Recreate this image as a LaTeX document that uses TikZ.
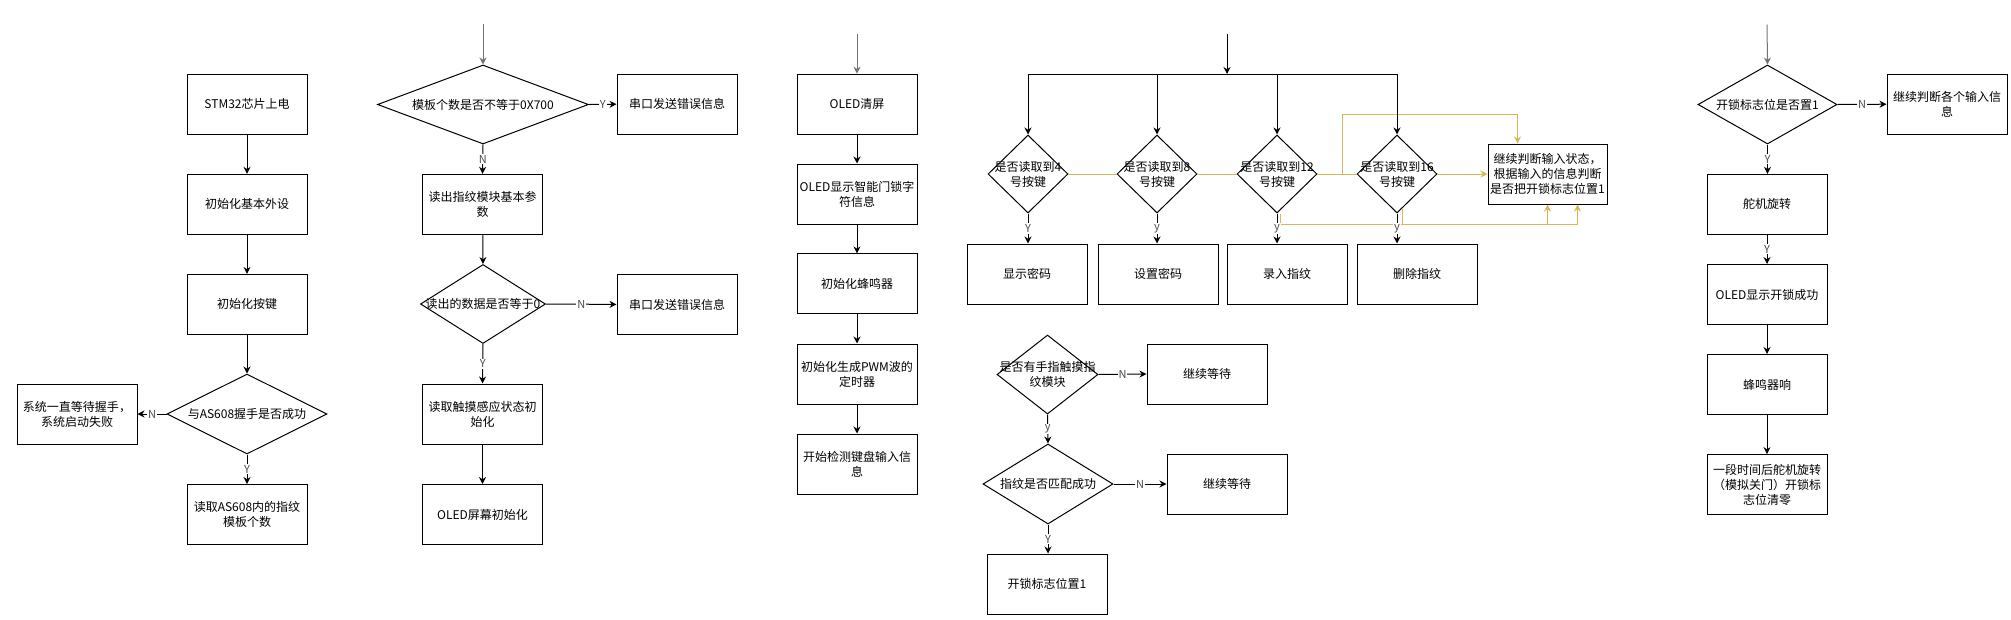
\documentclass[tikz,border=0pt]{standalone}
\usepackage{fontspec}
\setmainfont{Noto Sans CJK SC}
\usetikzlibrary{shapes.geometric,arrows.meta,calc}
\definecolor{yel}{HTML}{D6B656}
\newcommand\myfs{\fontsize{12pt}{15pt}\selectfont}
\newcommand\mylf{\fontsize{11pt}{12pt}\selectfont}
\begin{document}
\begin{tikzpicture}[x=1pt,y=-1pt,
  box/.style={draw, line width=1pt, minimum width=120pt, minimum height=60pt, inner sep=0pt, align=center, font=\myfs},
  dia/.style={draw, diamond, line width=1pt, inner sep=0pt},
  dl/.style={font=\myfs, align=center, inner sep=0pt},
  arr/.style={line width=1pt, -{Stealth[length=7pt,width=7pt]}},
  ent/.style={arr, draw=black!55},
  lbl/.style={fill=white, inner sep=1pt, font=\mylf, text=black!70},
  yl/.style={draw=yel, line width=1pt},
  yarr/.style={yl, -{Stealth[length=7pt,width=7pt]}, yel}
]
\useasboundingbox (0,0) rectangle (2011,619);

% ---------- column 1 ----------
\node[box] (b1) at (247,104.2) {STM32芯片上电};
\node[box] (b2) at (247,204.3) {初始化基本外设};
\node[box] (b3) at (247,304.4) {初始化按键};
\node[dia, minimum width=160pt, minimum height=80pt, label={[dl]center:与AS608握手是否成功}] (d1) at (247,414) {};
\node[box] (bL) at (77,414) {系统一直等待握手，\\系统启动失败};
\node[box] (b4) at (247,514.5) {读取AS608内的指纹\\模板个数};
\draw[arr] (b1) -- (b2);
\draw[arr] (b2) -- (b3);
\draw[arr] (b3) -- (d1.north);
\draw[arr] (d1.west) -- node[lbl]{N} (bL.east);
\draw[arr] (d1.south) -- node[lbl]{Y} (b4.north);

% ---------- column 2 ----------
\coordinate (s2) at (483,23.7);
\node[dia, minimum width=211pt, minimum height=79pt, label={[dl]center:模板个数是否不等于0X700}] (d2) at (483,104.5) {};
\node[box] (r1) at (677,104.2) {串口发送错误信息};
\node[box] (b5) at (482.5,204.3) {读出指纹模块基本参\\数};
\node[dia, minimum width=125pt, minimum height=79pt, label={[dl]center:读出的数据是否等于0}] (d3) at (483,304) {};
\node[box] (r2) at (677,304.4) {串口发送错误信息};
\node[box] (b6) at (482.5,414) {读取触摸感应状态初\\始化};
\node[box] (b7) at (482.5,514.5) {OLED屏幕初始化};
\draw[ent] (s2) -- (d2.north);
\draw[arr] (d2.east) -- node[lbl]{Y} (r1.west);
\draw[arr] (d2.south) -- node[lbl]{N} (b5.north);
\draw[arr] (b5) -- (d3.north);
\draw[arr] (d3.east) -- node[lbl]{N} (r2.west);
\draw[arr] (d3.south) -- node[lbl]{Y} (b6.north);
\draw[arr] (b6) -- (b7);

% ---------- column 3 ----------
\coordinate (s3) at (857,33.6);
\node[box] (c1) at (857,104.2) {OLED清屏};
\node[box] (c2) at (857,194) {OLED显示智能门锁字\\符信息};
\node[box] (c3) at (857,283.9) {初始化蜂鸣器};
\node[box] (c4) at (857,374) {初始化生成PWM波的\\定时器};
\node[box] (c5) at (857,464) {开始检测键盘输入信\\息};
\draw[ent] (s3) -- (c1);
\draw[arr] (c1) -- (c2);
\draw[arr] (c2) -- (c3);
\draw[arr] (c3) -- (c4);
\draw[arr] (c4) -- (c5);

% ---------- column 4 (keys) ----------
\coordinate (s4) at (1227,34);
\coordinate (jn) at (1227,74);
\node[dia, minimum width=80pt, minimum height=78pt, label={[dl]center:是否读取到4\\号按键}] (k1) at (1028,174) {};
\node[dia, minimum width=80pt, minimum height=78pt, label={[dl]center:是否读取到8\\号按键}] (k2) at (1157,174) {};
\node[dia, minimum width=80pt, minimum height=78pt, label={[dl]center:是否读取到12\\号按键}] (k3) at (1277,174) {};
\node[dia, minimum width=80pt, minimum height=78pt, label={[dl]center:是否读取到16\\号按键}] (k4) at (1397,174) {};
\node[box] (p1) at (1027,274) {显示密码};
\node[box] (p2) at (1158,274) {设置密码};
\node[box] (p3) at (1287,274) {录入指纹};
\node[box] (p4) at (1417,274) {删除指纹};
\node[box, minimum width=119pt] (q) at (1547.5,174) {继续判断输入状态，\\根据输入的信息判断\\是否把开锁标志位置1};
\coordinate (ya) at (1342,114);
% yellow connectors
\draw[yl] (k1.east) -- (k2.west);
\draw[yl] (k2.east) -- (k3.west);
\draw[yl] (k3.east) -- (k4.west);
\draw[yarr] (k4.east) -- (q.west);
\draw[yarr] (ya |- k3) -- (ya) -| ([xshift=-30pt]q.north);
\draw[yarr] ([xshift=3pt]k3.south) -- ++(0,11) -| (q.south);
\draw[yarr] ($(k4.south)+(5,-5)$) -- ++(0,16) -| ([xshift=30pt]q.south);
% black connectors
\draw[arr] (s4) -- (jn);
\draw[line width=1pt] (jn -| k1) -- (jn -| k4);
\draw[arr] (jn -| k1) -- (k1.north);
\draw[arr] (jn -| k2) -- (k2.north);
\draw[arr] (jn -| k3) -- (k3.north);
\draw[arr] (jn -| k4) -- (k4.north);
\draw[arr] (k1.south) -- node[lbl]{Y} (k1.south |- p1.north);
\draw[arr] (k2.south) -- node[lbl]{y} (k2.south |- p2.north);
\draw[arr] (k3.south) -- node[lbl]{y} (k3.south |- p3.north);
\draw[arr] (k4.south) -- node[lbl]{y} (k4.south |- p4.north);

% ---------- column 4 (fingerprint) ----------
\node[dia, minimum width=101pt, minimum height=79pt, label={[dl]center:是否有手指触摸指\\纹模块}] (e1) at (1047.5,374.5) {};
\node[box] (w1) at (1207,374) {继续等待};
\node[dia, minimum width=130pt, minimum height=80pt, label={[dl]center:指纹是否匹配成功}] (e2) at (1048,484) {};
\node[box] (w2) at (1227,484) {继续等待};
\node[box] (f1) at (1047,584) {开锁标志位置1};
\draw[arr] (e1.east) -- node[lbl]{N} (w1.west);
\draw[arr] (e1.south) -- node[lbl]{y} (e2.north);
\draw[arr] (e2.east) -- node[lbl]{N} (w2.west);
\draw[arr] (e2.south) -- node[lbl]{Y} (e2.south |- f1.north);

% ---------- column 5 ----------
\coordinate (s5) at (1767,24.5);
\node[dia, minimum width=139pt, minimum height=79pt, label={[dl]center:开锁标志位是否置1}] (g1) at (1767.5,104.5) {};
\node[box] (g2) at (1947,104.2) {继续判断各个输入信\\息};
\node[box] (h1) at (1767,204.3) {舵机旋转};
\node[box] (h2) at (1767,294.5) {OLED显示开锁成功};
\node[box] (h3) at (1767,384.5) {蜂鸣器响};
\node[box] (h4) at (1767,484.6) {一段时间后舵机旋转\\（模拟关门）开锁标\\志位清零};
\draw[ent] (s5) -- (g1.north);
\draw[arr] (g1.east) -- node[lbl]{N} (g2.west);
\draw[arr] (g1.south) -- node[lbl]{Y} (g1.south |- h1.north);
\draw[arr] (h1) -- node[lbl]{Y} (h2);
\draw[arr] (h2) -- (h3);
\draw[arr] (h3) -- (h4);
\end{tikzpicture}
\end{document}
